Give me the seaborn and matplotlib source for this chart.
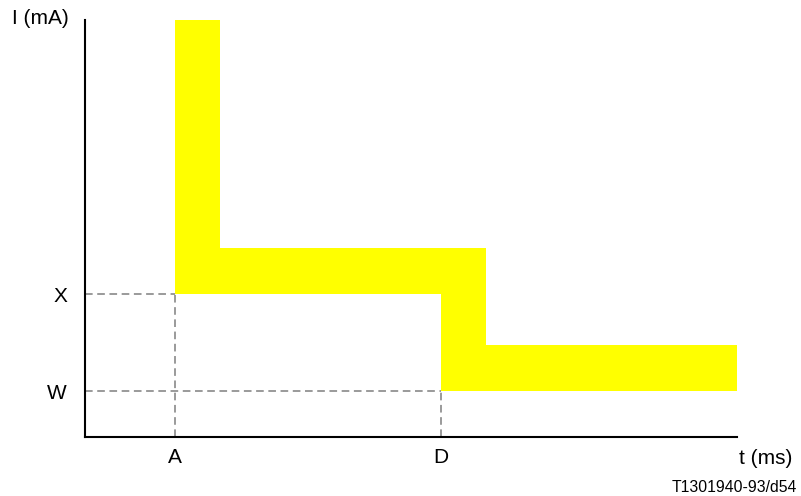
import matplotlib.pyplot as plt
import seaborn as sns
import numpy as np

# step points of the current band (t in ms-like units, I in mA-like units)
t_points = [2.0, 3.0, 7.92, 8.92, 14.5]
i_lower = [3.1, 3.1, 1.0, 1.0, 1.0]
i_upper = [9.07, 4.1, 4.1, 2.0, 2.0]
x_ticks = [2.0, 7.92]
x_labels = ['A', 'D']
y_ticks = [1.0, 3.1]
y_labels = ['W', 'X']

sns.set_style('white')
plt.rcParams['font.family'] = ['Liberation Sans', 'DejaVu Sans']
plt.rcParams['text.color'] = 'black'
plt.rcParams['xtick.color'] = 'black'
plt.rcParams['ytick.color'] = 'black'

fig = plt.figure(figsize=(8.01, 4.96), dpi=100)
ax = fig.add_axes([85/801, 59/496, 652/801, 417/496])

# yellow band
ax.fill_between(t_points, i_lower, i_upper, step='post', color='#ffff00', linewidth=0)

# dashed guide lines
dash = dict(color='#7f7f7f', linestyle=(0, (5, 3)), linewidth=1.1, clip_on=False)
for t, i in zip(x_ticks, y_ticks[::-1]):
    ax.plot([0, t], [i, i], **dash)
    ax.plot([t, t], [0, i], **dash)

ax.set_xlim(0, 14.5)
ax.set_ylim(0, 9.07)
ax.set_xticks(x_ticks, x_labels)
ax.set_yticks(y_ticks, y_labels)
ax.tick_params(axis='both', length=0, labelsize=15, labelcolor='black')
ax.tick_params(axis='x', pad=8)
ax.tick_params(axis='y', pad=13)

sns.despine(ax=ax)
for side in ['left', 'bottom']:
    ax.spines[side].set_linewidth(1.5)
    ax.spines[side].set_color('black')

fig.text(12/801, 1 - 19/496, 'I (mA)', fontsize=15, ha='left', va='center')
fig.text(766/801, 1 - 458/496, 't (ms)', fontsize=15, ha='center', va='center')
fig.text(797/801, 1 - 487/496, 'T1301940-93/d54', fontsize=11.3, ha='right', va='center')

fig.savefig('out.png', dpi=100)
